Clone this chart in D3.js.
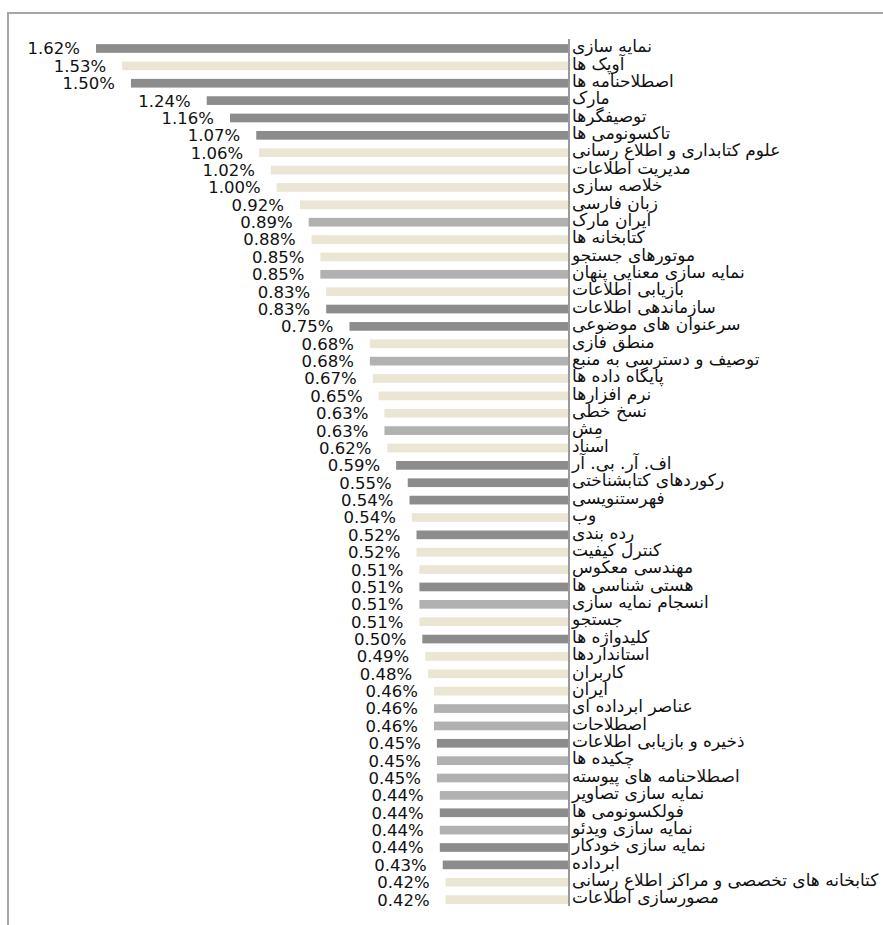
<!DOCTYPE html>
<html>
<head>
<meta charset="utf-8">
<script src="https://cdn.jsdelivr.net/npm/d3@7/dist/d3.min.js"></script>
<style>
  html, body { margin: 0; padding: 0; background: #fff; }
  svg { display: block; }
</style>
</head>
<body>
<svg id="chart" width="883" height="925"></svg>
<script>
const categories = [
  "نمایه سازی","آوپک ها","اصطلاحنامه ها","مارک","توصیفگرها","تاکسونومی ها",
  "علوم کتابداری و اطلاع رسانی","مدیریت اطلاعات","خلاصه سازی","زبان فارسی","ایران مارک",
  "کتابخانه ها","موتورهای جستجو","نمایه سازی معنایی پنهان","بازیابی اطلاعات","سازماندهی اطلاعات",
  "سرعنوان های موضوعی","منطق فازی","توصیف و دسترسی به منبع","پایگاه داده ها","نرم افزارها",
  "نسخ خطی","مِش","اسناد","اف. آر. بی. آر","رکوردهای کتابشناختی","فهرستنویسی","وب",
  "رده بندی","کنترل کیفیت","مهندسی معکوس","هستی شناسی ها","انسجام نمایه سازی","جستجو",
  "کلیدواژه ها","استانداردها","کاربران","ایران","عناصر ابرداده ای","اصطلاحات",
  "ذخیره و بازیابی اطلاعات","چکیده ها","اصطلاحنامه های پیوسته","نمایه سازی تصاویر",
  "فولکسونومی ها","نمایه سازی ویدئو","نمایه سازی خودکار","ابرداده",
  "کتابخانه های تخصصی و مراکز اطلاع رسانی","مصورسازی اطلاعات"
];
const values = [
  1.62,1.53,1.50,1.24,1.16,1.07,1.06,1.02,1.00,0.92,0.89,0.88,0.85,0.85,0.83,0.83,
  0.75,0.68,0.68,0.67,0.65,0.63,0.63,0.62,0.59,0.55,0.544,0.536,0.52,0.52,0.51,0.51,
  0.51,0.51,0.50,0.49,0.48,0.46,0.46,0.46,0.45,0.45,0.45,0.44,0.44,0.44,0.44,0.43,0.42,0.42
];
// colour group per bar: d = dark gray, b = beige, m = medium gray
const groups = [
  "d","b","d","d","d","d","b","b","b","b","m","b","b","m","b","d","d","b","m","b","b",
  "b","m","b","d","d","d","b","d","b","b","d","m","b","d","b","b","b","m","m","d","m",
  "m","m","d","m","d","d","b","b"
];
const groupColors = { d: "#8c8c8c", b: "#ebe5d3", m: "#b1b1b1" };

const data = categories.map((c, i) => ({ cat: c, value: values[i], group: groups[i] }));

const svg = d3.select("#chart");

// frame
svg.append("rect")
  .attr("x", 8).attr("y", 13)
  .attr("width", 900).attr("height", 960)
  .attr("fill", "none")
  .attr("stroke", "#a6a6a6")
  .attr("stroke-width", 2);

const x0 = 568;
const x = d3.scaleLinear().domain([0, 1.62]).range([x0, 96]);
const y = d3.scaleBand()
  .domain(categories)
  .range([39.8, 908.3])
  .paddingInner(0.5)
  .paddingOuter(0.25);

svg.append("g").selectAll("rect")
  .data(data)
  .join("rect")
  .attr("x", d => x(d.value))
  .attr("y", d => y(d.cat))
  .attr("width", d => x(0) - x(d.value))
  .attr("height", y.bandwidth())
  .attr("fill", d => groupColors[d.group]);

// value labels
svg.append("g").selectAll("text")
  .data(data)
  .join("text")
  .attr("x", d => x(d.value) - 16)
  .attr("y", d => y(d.cat) + y.bandwidth() / 2)
  .attr("dy", "0.36em")
  .attr("text-anchor", "end")
  .attr("font-family", "DejaVu Sans, sans-serif")
  .attr("font-size", 16.5)
  .attr("fill", "#111")
  .text(d => d.value.toFixed(2) + "%");

// axis line
const axis = d3.axisRight(y).tickSize(0).tickPadding(4);
const ag = svg.append("g").attr("transform", `translate(${x0 + 1},0)`).call(axis);
ag.select(".domain")
  .attr("stroke", "#999")
  .attr("stroke-width", 2)
  .attr("d", `M0,39V906`);
ag.selectAll(".tick text")
  .attr("x", 3)
  .attr("dy", "0.22em")
  .attr("text-anchor", "start")
  .attr("font-family", "DejaVu Sans, sans-serif")
  .attr("font-size", 17)
  .attr("fill", "#111");
</script>
</body>
</html>
